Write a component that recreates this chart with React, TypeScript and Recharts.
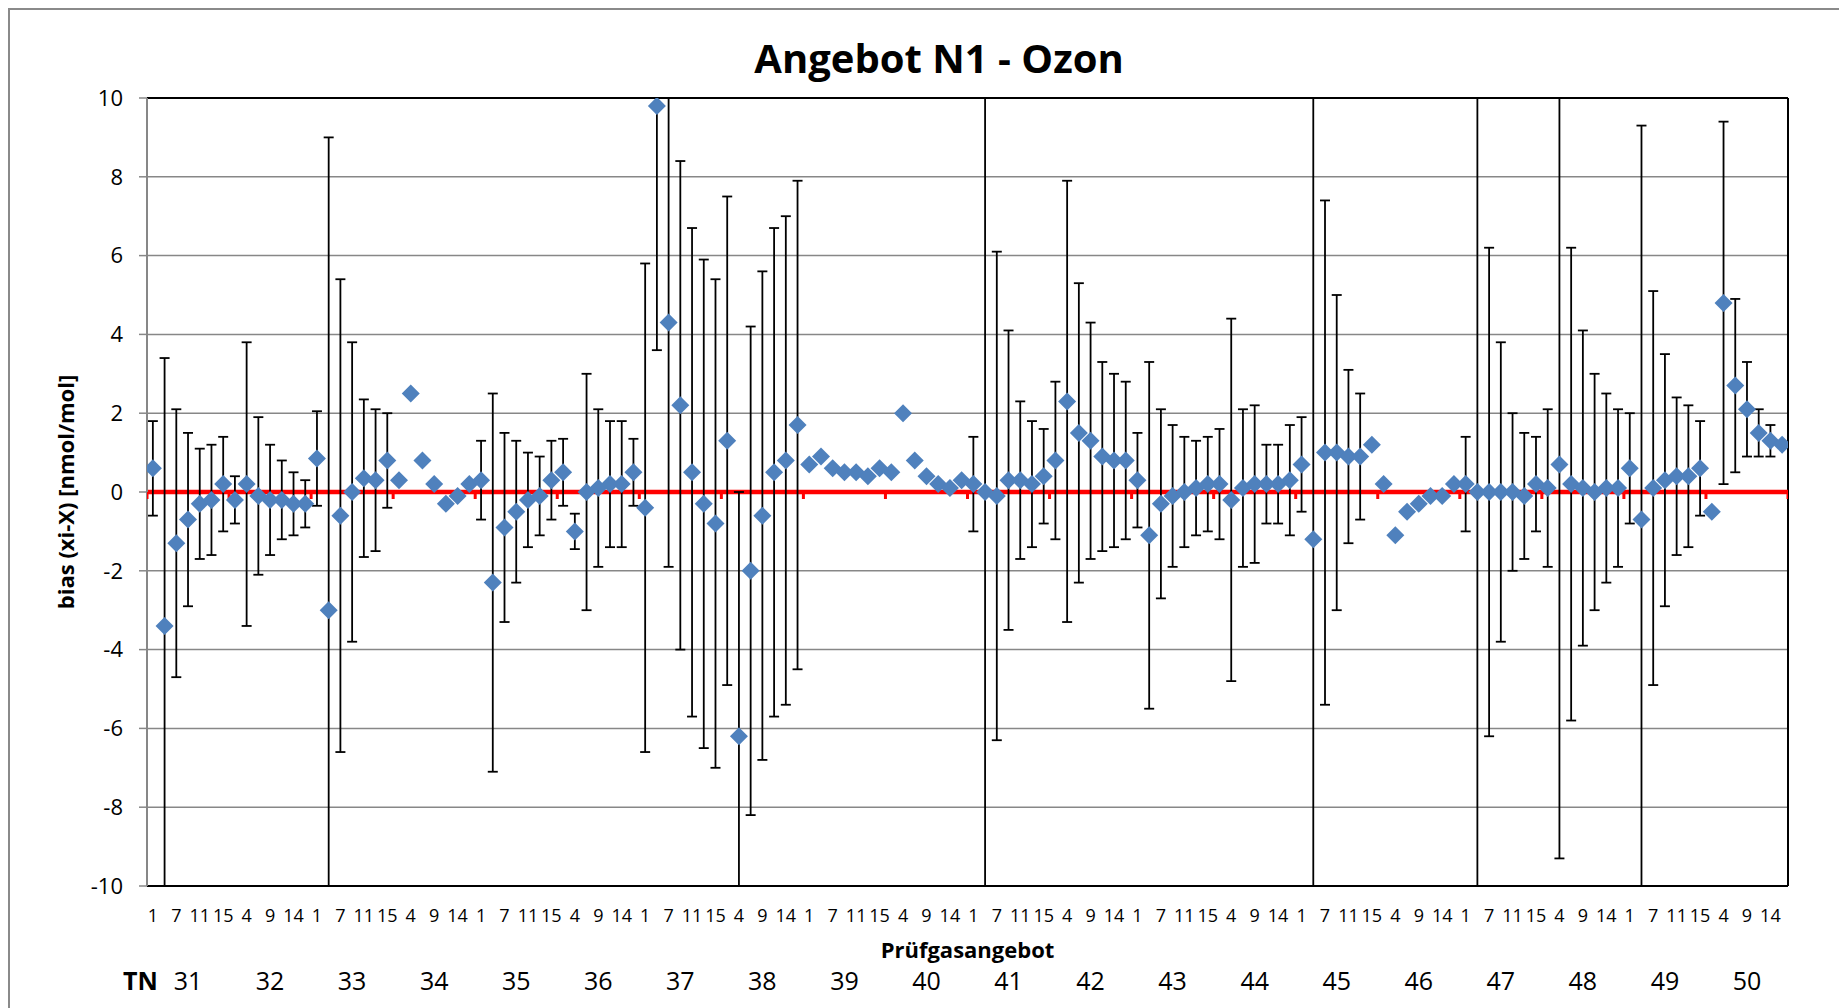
import React from 'react';
import { ScatterChart, Scatter, XAxis, YAxis, CartesianGrid, ErrorBar, ReferenceLine, Label } from 'recharts';

const FONT = '"Open Sans", "Noto Sans", sans-serif';

// Prüfgasangebot inside each TN block
const offers = [1, 4, 7, 9, 11, 14, 15];
// participants (TN)
const participants = [31, 32, 33, 34, 35, 36, 37, 38, 39, 40, 41, 42, 43, 44, 45, 46, 47, 48, 49, 50];

// bias (xi-X) [nmol/mol], one row per TN, same order as offers
const bias = [
  [0.6, -3.4, -1.3, -0.7, -0.3, -0.2, 0.2],
  [-0.2, 0.2, -0.1, -0.2, -0.2, -0.3, -0.3],
  [0.85, -3.0, -0.6, 0.0, 0.35, 0.3, 0.8],
  [0.3, 2.5, 0.8, 0.2, -0.3, -0.1, 0.2],
  [0.3, -2.3, -0.9, -0.5, -0.2, -0.1, 0.3],
  [0.5, -1.0, 0.0, 0.1, 0.2, 0.2, 0.5],
  [-0.4, 9.8, 4.3, 2.2, 0.5, -0.3, -0.8],
  [1.3, -6.2, -2.0, -0.6, 0.5, 0.8, 1.7],
  [0.7, 0.9, 0.6, 0.5, 0.5, 0.4, 0.6],
  [0.5, 2.0, 0.8, 0.4, 0.2, 0.1, 0.3],
  [0.2, 0.0, -0.1, 0.3, 0.3, 0.2, 0.4],
  [0.8, 2.3, 1.5, 1.3, 0.9, 0.8, 0.8],
  [0.3, -1.1, -0.3, -0.1, 0.0, 0.1, 0.2],
  [0.2, -0.2, 0.1, 0.2, 0.2, 0.2, 0.3],
  [0.7, -1.2, 1.0, 1.0, 0.9, 0.9, 1.2],
  [0.2, -1.1, -0.5, -0.3, -0.1, -0.1, 0.2],
  [0.2, 0.0, 0.0, 0.0, 0.0, -0.1, 0.2],
  [0.1, 0.7, 0.2, 0.1, 0.0, 0.1, 0.1],
  [0.6, -0.7, 0.1, 0.3, 0.4, 0.4, 0.6],
  [-0.5, 4.8, 2.7, 2.1, 1.5, 1.3, 1.2],
];

// half length of the error bars, null = no bar
const uncertainty = [
  [1.2, 6.8, 3.4, 2.2, 1.4, 1.4, 1.2],
  [0.6, 3.6, 2.0, 1.4, 1.0, 0.8, 0.6],
  [1.2, 12, 6.0, 3.8, 2.0, 1.8, 1.2],
  [null, null, null, null, null, null, null],
  [1.0, 4.8, 2.4, 1.8, 1.2, 1.0, 1.0],
  [0.85, 0.45, 3.0, 2.0, 1.6, 1.6, 0.85],
  [6.2, 6.2, 6.2, 6.2, 6.2, 6.2, 6.2],
  [6.2, 6.2, 6.2, 6.2, 6.2, 6.2, 6.2],
  [null, null, null, null, null, null, null],
  [null, null, null, null, null, null, null],
  [1.2, 13, 6.2, 3.8, 2.0, 1.6, 1.2],
  [2.0, 5.6, 3.8, 3.0, 2.4, 2.2, 2.0],
  [1.2, 4.4, 2.4, 1.8, 1.4, 1.2, 1.2],
  [1.4, 4.6, 2.0, 2.0, 1.0, 1.0, 1.4],
  [1.2, 12, 6.4, 4.0, 2.2, 1.6, null],
  [null, null, null, null, null, null, null],
  [1.2, 12, 6.2, 3.8, 2.0, 1.6, 1.2],
  [2.0, 10, 6.0, 4.0, 3.0, 2.4, 2.0],
  [1.4, 10, 5.0, 3.2, 2.0, 1.8, 1.2],
  [null, 4.6, 2.2, 1.2, 0.6, 0.4, null],
];

const yMin = -10;
const yMax = 10;
const yTicks = [-10, -8, -6, -4, -2, 0, 2, 4, 6, 8, 10];

const nCats = participants.length * offers.length;
// error bars are cut at the plot border like in Excel
const points = bias.flatMap((row, g) =>
  row.map((v, j) => {
    const e = uncertainty[g][j];
    return {
      x: g * offers.length + j + 0.5,
      y: v,
      err: e == null ? null : [Math.min(e, v - yMin), Math.min(e, yMax - v)],
    };
  })
);
const blockEdges = participants.map((_, g) => g * offers.length).concat(nCats);
const axisMarks = blockEdges.map((x) => ({ x, y: 0 }));
const labelTicks = points.filter((_, i) => i % 2 === 0).map((p) => p.x);
const tnTicks = participants.map((_, g) => g * offers.length + offers.length / 2);

const Diamond = (props: any) => {
  const { cx, cy } = props;
  if (cx == null || cy == null) return <g />;
  const r = 9;
  return <path d={`M${cx},${cy - r}L${cx + r},${cy}L${cx},${cy + r}L${cx - r},${cy}Z`} fill="#4F81BD" />;
};

const RedTick = (props: any) => {
  const { cx, cy } = props;
  if (cx == null || cy == null) return <g />;
  return <rect x={cx - 1.5} y={cy} width={3} height={7} fill="#FF0000" />;
};

const Nothing = () => <g />;

const App: React.FC = () => {
  return (
    <div style={{ position: 'relative', width: 1839, height: 1000, overflow: 'hidden', background: '#fff' }}>
      <div
        style={{
          position: 'absolute', left: 0, top: 0, width: 1900, height: 1100,
          borderLeft: '2px solid #8a8a8a', borderTop: '2px solid #8a8a8a',
        }}
      />
      <svg width={1839} height={100} style={{ position: 'absolute', left: 0, top: 0 }}>
        <text x={931} y={65} textAnchor="middle" fontFamily={FONT} fontWeight={700} fontSize={40} fill="#000">
          Angebot N1 - Ozon
        </text>
      </svg>
      <div style={{ position: 'absolute', left: 0, top: 0 }}>
        <ScatterChart width={1839} height={1000} margin={{ top: 90, right: 59, bottom: 0, left: 0 }}>
          <CartesianGrid xAxisId="grid" stroke="#878787" strokeWidth={1.5} />
          <XAxis
            xAxisId="grid"
            type="number"
            dataKey="x"
            domain={[0, nCats]}
            ticks={blockEdges}
            allowDataOverflow
            height={0}
            tick={false}
            tickLine={false}
            axisLine={false}
          />
          <XAxis
            xAxisId="cat"
            type="number"
            dataKey="x"
            domain={[0, nCats]}
            ticks={labelTicks}
            interval={0}
            allowDataOverflow
            height={50}
            axisLine={false}
            tickLine={false}
            tickSize={0}
            tickMargin={23}
            tick={{ fill: '#000', fontSize: 18, fontFamily: FONT }}
            tickFormatter={(v: number) => String(offers[Math.floor(v) % offers.length])}
          >
            <Label
              content={({ viewBox }: any) => (
                <text
                  x={viewBox.x + viewBox.width / 2}
                  y={viewBox.y + 72}
                  textAnchor="middle"
                  fontFamily={FONT}
                  fontWeight={700}
                  fontSize={22}
                  fill="#000"
                >
                  Prüfgasangebot
                </text>
              )}
            />
          </XAxis>
          <XAxis
            xAxisId="tn"
            type="number"
            dataKey="x"
            domain={[0, nCats]}
            ticks={tnTicks}
            interval={0}
            allowDataOverflow
            height={72}
            axisLine={false}
            tickLine={false}
            tickSize={0}
            tickMargin={36}
            tick={{ fill: '#000', fontSize: 25, fontFamily: FONT }}
            tickFormatter={(v: number) => String(participants[Math.floor(v / offers.length)])}
          >
            <Label
              content={({ viewBox }: any) => (
                <text
                  x={viewBox.x - 24}
                  y={viewBox.y + 54}
                  textAnchor="start"
                  fontFamily={FONT}
                  fontWeight={700}
                  fontSize={25}
                  fill="#000"
                >
                  TN
                </text>
              )}
            />
          </XAxis>
          <YAxis
            type="number"
            dataKey="y"
            domain={[yMin, yMax]}
            ticks={yTicks}
            interval={0}
            allowDataOverflow
            width={139}
            tickSize={8}
            tickMargin={16}
            axisLine={{ stroke: '#878787', strokeWidth: 2 }}
            tickLine={{ stroke: '#878787', strokeWidth: 1.5 }}
            tick={{ fill: '#000', fontSize: 22, fontFamily: FONT }}
          >
            <Label
              content={({ viewBox }: any) => {
                const cx = viewBox.x + 57;
                const cy = viewBox.y + viewBox.height / 2;
                return (
                  <text
                    x={cx}
                    y={cy}
                    transform={`rotate(-90, ${cx}, ${cy})`}
                    textAnchor="middle"
                    dominantBaseline="central"
                    fontFamily={FONT}
                    fontWeight={700}
                    fontSize={22}
                    fill="#000"
                  >
                    bias (xi-X) [nmol/mol]
                  </text>
                );
              }}
            />
          </YAxis>
          <ReferenceLine xAxisId="grid" y={yMax} stroke="#000" strokeWidth={2} />
          <ReferenceLine xAxisId="grid" y={yMin} stroke="#000" strokeWidth={2} />
          <ReferenceLine xAxisId="grid" x={nCats} stroke="#000" strokeWidth={2} />
          <ReferenceLine xAxisId="grid" y={0} stroke="#FF0000" strokeWidth={4.5} />
          <Scatter xAxisId="cat" data={points} shape={Nothing} isAnimationActive={false} />
          <Scatter xAxisId="tn" data={points} shape={Nothing} isAnimationActive={false} />
          <Scatter xAxisId="grid" data={axisMarks} shape={RedTick} isAnimationActive={false} />
          <Scatter xAxisId="grid" data={points} shape={Diamond} isAnimationActive={false}>
            <ErrorBar dataKey="err" direction="y" width={5} stroke="#000" strokeWidth={1.8} />
          </Scatter>
        </ScatterChart>
      </div>
    </div>
  );
};

export default App;
